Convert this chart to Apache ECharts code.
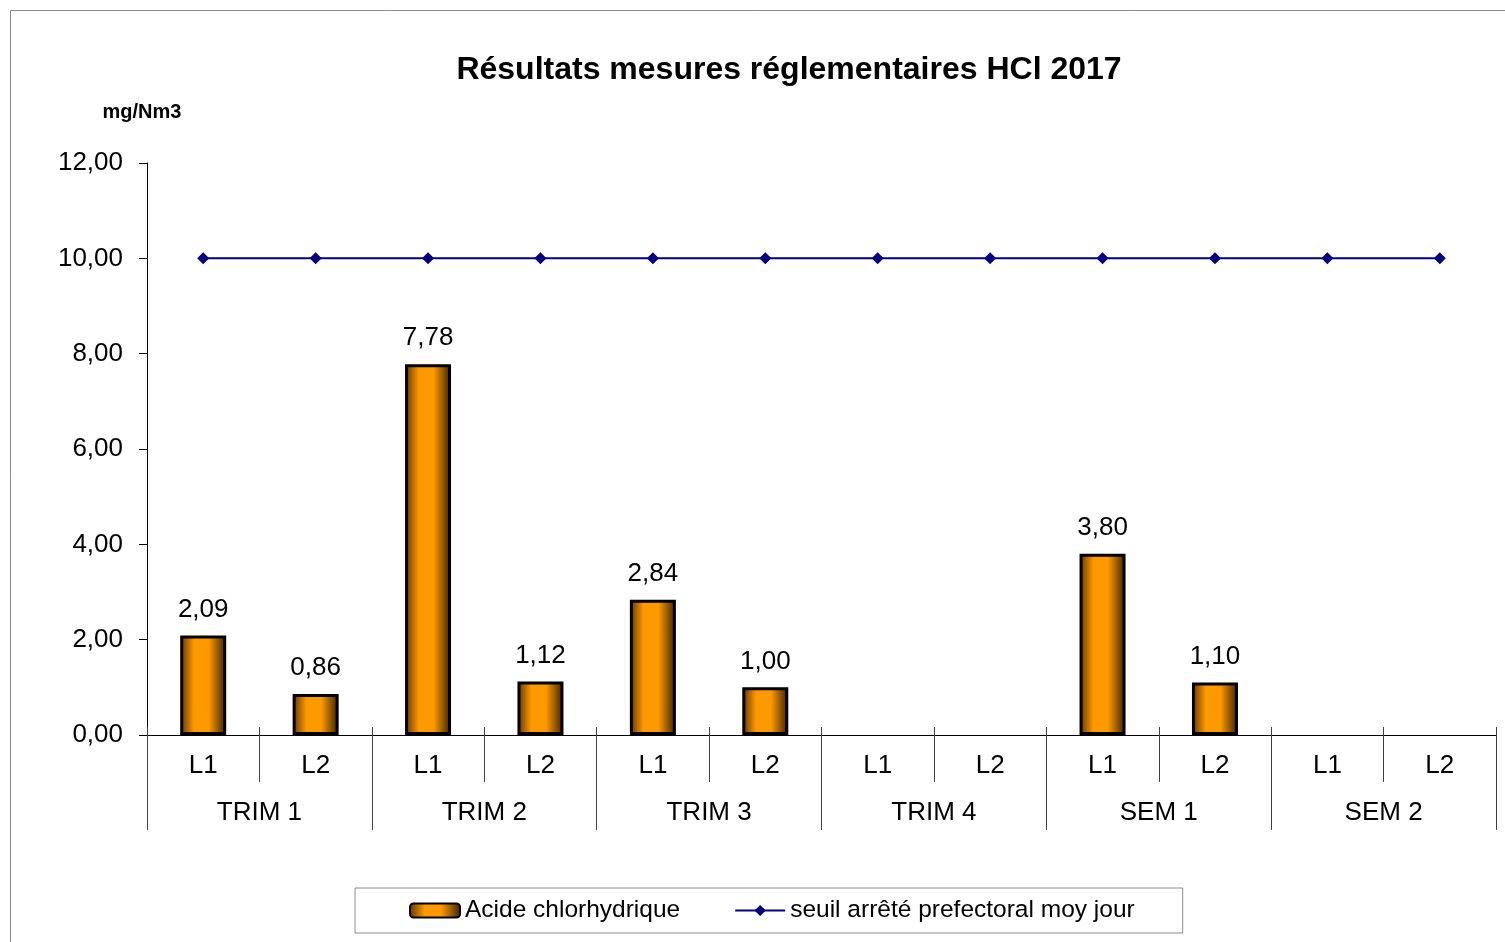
<!DOCTYPE html>
<html>
<head>
<meta charset="utf-8">
<script src="https://cdn.jsdelivr.net/npm/echarts@6/dist/echarts.min.js"></script>
<style>
  html, body { margin: 0; padding: 0; background: #fff; }
  #chart { width: 1505px; height: 942px; }
</style>
</head>
<body>
<div id="chart"></div>
<script>
const lines = ['L1', 'L2', 'L1', 'L2', 'L1', 'L2', 'L1', 'L2', 'L1', 'L2', 'L1', 'L2'];
const periods = ['TRIM 1', 'TRIM 2', 'TRIM 3', 'TRIM 4', 'SEM 1', 'SEM 2'];
const hclValues = [2.09, 0.86, 7.78, 1.12, 2.84, 1.00, null, null, 3.80, 1.10, null, null];
const thresholdValues = [10, 10, 10, 10, 10, 10, 10, 10, 10, 10, 10, 10];
const yTicks = { min: 0, max: 12, interval: 2 };

const chart = echarts.init(document.getElementById('chart'));
const font = 'Liberation Sans, Arial, sans-serif';
const fmt = v => Number(v).toFixed(2).replace('.', ',');

const option = {
  animation: false,
  textStyle: { fontFamily: font },
  title: {
    text: 'Résultats mesures réglementaires HCl 2017',
    left: 784,
    textAlign: 'center',
    top: 49,
    textStyle: { fontSize: 32, fontWeight: 'bold', color: '#000', fontFamily: font }
  },
  graphic: [{
    type: 'rect',
    shape: { x: 10.5, y: 10.5, width: 1600, height: 1000 },
    style: { fill: 'none', stroke: '#8c8c8c', lineWidth: 1 },
    silent: true
  }],
  legend: {
    left: 355,
    top: 888,
    padding: [10, 48, 10, 54],
    itemGap: 54,
    itemWidth: 50,
    itemHeight: 14,
    borderColor: '#8c8c8c',
    borderWidth: 1,
    textStyle: { fontSize: 24.5, color: '#000', fontFamily: font },
    data: ['Acide chlorhydrique', 'seuil arrêté prefectoral moy jour']
  },
  grid: { left: 147, right: 9, top: 163, bottom: 207 },
  xAxis: [{
    type: 'category',
    data: lines,
    axisLine: { show: true, lineStyle: { color: '#000', width: 1 } },
    axisTick: { show: true, interval: 0, length: 47, lineStyle: { color: '#444' } },
    axisLabel: { interval: 0, margin: 18, fontSize: 26, color: '#000' }
  }, {
    type: 'category',
    data: periods,
    position: 'bottom',
    axisLine: { show: false },
    axisTick: { show: true, interval: 0, length: 95, lineStyle: { color: '#444' } },
    axisLabel: { interval: 0, margin: 65, fontSize: 26, color: '#000' }
  }, {
    type: 'category',
    data: lines,
    position: 'bottom',
    axisLine: { show: false },
    axisTick: { show: true, interval: 0, inside: true, length: 8, lineStyle: { color: '#444' } },
    axisLabel: { show: false }
  }],
  yAxis: {
    type: 'value',
    min: yTicks.min,
    max: yTicks.max,
    interval: yTicks.interval,
    name: 'mg/Nm3',
    nameLocation: 'end',
    nameGap: 41,
    nameTextStyle: { fontSize: 20, fontWeight: 'bold', color: '#000', padding: [0, 10, 0, 0] },
    axisLine: { show: true, lineStyle: { color: '#000' } },
    axisTick: { show: true, length: 8, lineStyle: { color: '#000' } },
    axisLabel: { fontSize: 26, color: '#000', margin: 24, formatter: fmt },
    splitLine: { show: false }
  },
  series: [{
    name: 'Acide chlorhydrique',
    type: 'bar',
    xAxisIndex: 0,
    data: hclValues,
    barWidth: 46,
    itemStyle: {
      color: new echarts.graphic.LinearGradient(0, 0, 1, 0, [
        { offset: 0, color: '#5a3300' },
        { offset: 0.3, color: '#ff9900' },
        { offset: 0.62, color: '#ff9900' },
        { offset: 1, color: '#3a2000' }
      ]),
      borderColor: '#000',
      borderWidth: 3
    },
    label: {
      show: true,
      position: 'top',
      distance: 13,
      fontSize: 26,
      color: '#000',
      formatter: p => fmt(p.value)
    }
  }, {
    name: 'seuil arrêté prefectoral moy jour',
    type: 'line',
    xAxisIndex: 0,
    data: thresholdValues,
    symbol: 'diamond',
    symbolSize: 12,
    lineStyle: { color: '#000080', width: 2 },
    itemStyle: { color: '#000080' }
  }]
};

chart.setOption(option);
</script>
</body>
</html>
